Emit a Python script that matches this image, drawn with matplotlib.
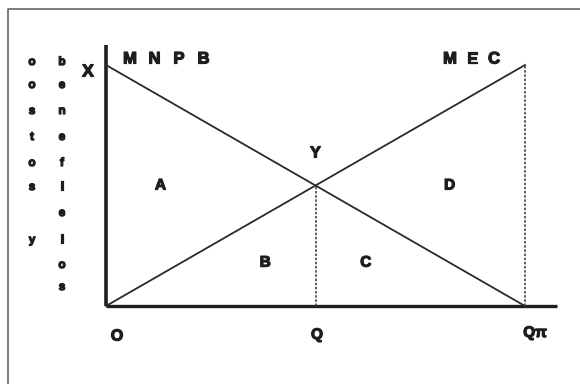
import matplotlib
matplotlib.use("Agg")
import matplotlib.pyplot as plt
import matplotlib.patheffects as pe

# quantities (output units) and curve values
q_points = [0, 10]           # from origin to Q-pi
mnpb_vals = [10, 0]          # marginal net private benefit, falls to zero at Q-pi
mec_vals = [0, 10]           # marginal external cost, rises with output
q_star = 5                   # social optimum Q
q_pi = 10                    # private optimum Q-pi
y_star = 5                   # height of Y

area_labels = ["A", "B", "C", "D"]
area_pos = [(1.3, 5.0), (3.8, 1.8), (6.2, 1.8), (8.2, 5.0)]

col_costs = ["o", "o", "s", "t", "o", "s", "", "y"]
col_benefits = ["b", "e", "n", "e", "f", "i", "e", "i", "o", "s"]

ink = "#1e1e1e"
heavy = [pe.withStroke(linewidth=0.9, foreground=ink)]
fnt = dict(family="Liberation Sans", fontweight="bold", color=ink, path_effects=heavy)

PX_X = 41.9   # pixels per x unit
PX_Y = 24.1   # pixels per y unit
OX, OY = 106, 306  # origin in pixels

fig = plt.figure(figsize=(5.8, 3.84), dpi=100)
ax = fig.add_axes([0, 0, 1, 1])
ax.set_xlim(-OX / PX_X, (580 - OX) / PX_X)
ax.set_ylim(-(384 - OY) / PX_Y, OY / PX_Y)
ax.axis("off")


def px(x, y):
    return (x - OX) / PX_X, (OY - y) / PX_Y


def spaced(x0, y0, text, pitch, size):
    for i, ch in enumerate(text):
        xx, yy = px(x0 + i * pitch, y0)
        ax.text(xx, yy, ch, fontsize=size, ha="center", va="center", **fnt)


# scanned frame (left and top edges only)
x_l, y_t = px(8, 9)
x_r, y_b = px(580, 384)
ax.plot([x_l, x_l, x_r], [y_b, y_t, y_t], color="#666666", lw=1.2)

# axes
ax.plot([0, 0], [0, 10.83], color=ink, lw=2.6, solid_capstyle="butt")
ax.plot([0, 10.76], [0, 0], color=ink, lw=2.4, solid_capstyle="butt")

# curves
ax.plot(q_points, mnpb_vals, color="#2a2a2a", lw=1.3)
ax.plot(q_points, mec_vals, color="#2a2a2a", lw=1.3)

# dotted drop lines
ax.plot([q_star, q_star], [0, y_star], color="#444444", lw=1.2, ls=(0, (1.5, 1)))
ax.plot([q_pi, q_pi], [0, mec_vals[1]], color="#444444", lw=1.2, ls=(0, (1.5, 1)))

# curve labels
spaced(130, 59, "MNPB", 24.5, 12)
spaced(450, 59, "MEC", 22, 12)
xx, yy = px(88, 72)
ax.text(xx, yy, "X", fontsize=12.5, ha="center", va="center", **fnt)
ax.text(q_star, 6.35, "Y", fontsize=11.5, ha="center", va="center", **fnt)

for lab, (lx, ly) in zip(area_labels, area_pos):
    ax.text(lx, ly, lab, fontsize=11, ha="center", va="center", **fnt)

# axis labels
xx, yy = px(117, 336)
ax.text(xx, yy, "O", fontsize=11.5, ha="center", va="center", **fnt)
xx, yy = px(317, 335)
ax.text(xx, yy, "Q", fontsize=11, ha="center", va="center", **fnt)
xx, yy = px(535, 333)
ax.text(xx, yy, "Qπ", fontsize=11, ha="center", va="center", **fnt)

# vertical stacked axis caption
row_y = [62, 85, 111, 137, 163, 187, 213, 240, 265, 287]
for i, ch in enumerate(col_costs):
    xx, yy = px(32, row_y[i])
    ax.text(xx, yy, ch, fontsize=8.5, ha="center", va="center", **fnt)
for i, ch in enumerate(col_benefits):
    xx, yy = px(62, row_y[i])
    ax.text(xx, yy, ch, fontsize=8.5, ha="center", va="center", **fnt)

fig.savefig("out.png", dpi=100)
